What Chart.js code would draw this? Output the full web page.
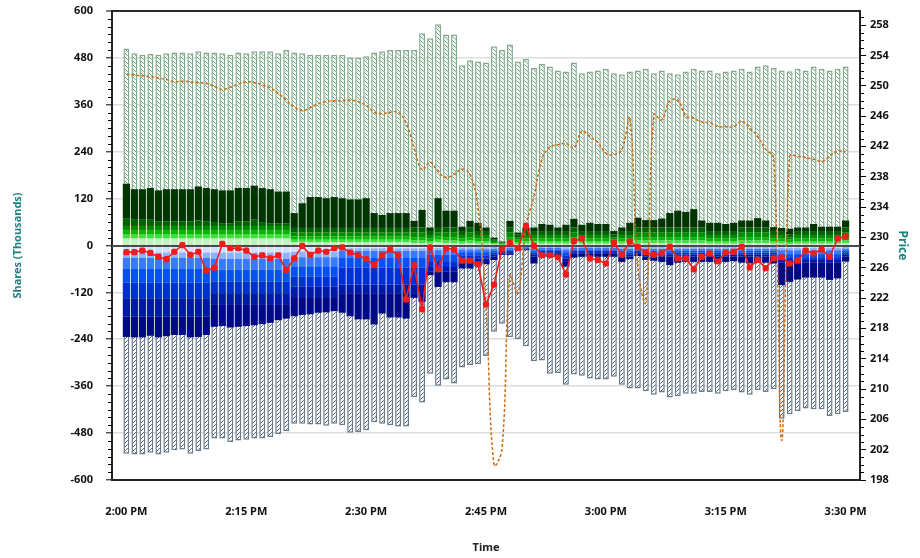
<!DOCTYPE html>
<html>
<head>
<meta charset="utf-8">
<script src="https://cdn.jsdelivr.net/npm/chart.js@4.4.1/dist/chart.umd.min.js"></script>
<style>
  html, body { margin: 0; padding: 0; background: #fff; }
  #wrap { width: 920px; height: 558px; }
</style>
</head>
<body>
<div id="wrap"><canvas id="flowChart"></canvas></div>
<script>
// one bar per minute, 0 = 2:00 PM
const minutes = Array.from({ length: 91 }, (_, i) => i);
const xTickMinutes = [0, 15, 30, 45, 60, 75, 90];
const xTickLabels = ['2:00 PM', '2:15 PM', '2:30 PM', '2:45 PM', '3:00 PM', '3:15 PM', '3:30 PM'];
const shareTicks = [-600, -480, -360, -240, -120, 0, 120, 240, 360, 480, 600];
const priceTicks = [198, 202, 206, 210, 214, 218, 222, 226, 230, 234, 238, 242, 246, 250, 254, 258];

// total buy volume (hatched, up) and total sell volume (hatched, down)
const buyTotal = [
  504, 492, 488, 490, 488, 492, 494, 494, 492, 497,
  494, 494, 492, 488, 494, 492, 497, 497, 497, 492,
  500, 494, 492, 488, 488, 488, 488, 488, 481, 481,
  484, 494, 497, 500, 500, 500, 500, 543, 530, 566,
  540, 540, 461, 474, 471, 468, 510, 500, 514, 471,
  477, 454, 465, 458, 448, 445, 468, 441, 445, 448,
  452, 441, 438, 445, 448, 452, 441, 448, 441, 438,
  445, 452, 448, 448, 441, 445, 448, 452, 445, 458,
  461, 455, 448, 446, 452, 448, 458, 452, 448, 452,
  458
];
const sellTotal = [
  -533, -535, -535, -530, -535, -530, -524, -522, -533, -526,
  -522, -494, -494, -503, -499, -497, -494, -494, -490, -482,
  -475, -456, -456, -458, -458, -461, -456, -460, -479, -477,
  -473, -452, -456, -460, -463, -463, -388, -402, -328, -359,
  -343, -353, -312, -306, -304, -283, -221, -200, -234, -240,
  -258, -296, -294, -328, -326, -356, -330, -333, -340, -343,
  -343, -336, -356, -366, -366, -373, -382, -376, -389, -386,
  -379, -379, -375, -375, -379, -373, -370, -376, -382, -370,
  -375, -368, -443, -432, -424, -417, -419, -419, -436, -432,
  -426
];

// green buy bands: band edges from 0 upward, top of darkest band = greenTop
const gEdge1 = [
  18, 18, 18, 18, 18, 18, 18, 18, 18, 18,
  18, 18, 18, 18, 18, 18, 18, 18, 18, 18,
  18, 8, 8, 8, 8, 8, 8, 8, 8, 8,
  8, 8, 8, 8, 8, 8, 6, 6, 5, 8,
  6, 6, 5, 6, 5, 5, 3, 2, 6, 4,
  5, 5, 5, 5, 5, 5, 6, 5, 5, 5,
  5, 4, 5, 5, 6, 6, 6, 6, 6, 6,
  6, 6, 6, 5, 5, 5, 5, 6, 6, 6,
  6, 5, 5, 4, 5, 5, 5, 5, 5, 5,
  6
];
const gEdge2 = [
  28, 28, 28, 28, 28, 28, 28, 28, 28, 28,
  28, 28, 28, 28, 28, 28, 28, 28, 28, 28,
  28, 15, 15, 15, 15, 15, 15, 15, 15, 15,
  15, 15, 15, 15, 15, 15, 13, 13, 11, 15,
  13, 13, 11, 13, 11, 11, 6, 4, 13, 9,
  11, 11, 11, 11, 11, 11, 13, 11, 11, 11,
  11, 9, 11, 11, 13, 13, 13, 13, 13, 13,
  13, 13, 13, 11, 11, 11, 11, 13, 13, 13,
  13, 11, 11, 9, 11, 11, 11, 11, 11, 11,
  13
];
const gEdge3 = [
  38, 38, 38, 38, 38, 38, 38, 38, 38, 38,
  38, 38, 38, 38, 38, 38, 38, 38, 38, 38,
  38, 23, 23, 23, 23, 23, 23, 23, 23, 23,
  23, 23, 23, 23, 23, 23, 21, 21, 18, 23,
  21, 21, 18, 21, 18, 18, 9, 5, 21, 15,
  18, 18, 18, 18, 18, 18, 21, 18, 18, 18,
  18, 15, 18, 18, 21, 21, 21, 21, 21, 21,
  21, 21, 21, 18, 18, 18, 18, 21, 21, 21,
  21, 18, 18, 15, 18, 18, 18, 18, 18, 18,
  21
];
const gEdge4 = [
  50, 50, 50, 50, 50, 50, 50, 50, 50, 50,
  50, 50, 50, 50, 50, 50, 50, 50, 50, 50,
  50, 33, 33, 33, 33, 33, 33, 33, 33, 33,
  33, 33, 33, 33, 33, 33, 33, 33, 27, 33,
  33, 33, 27, 33, 27, 27, 12, 7, 33, 21,
  27, 27, 27, 27, 27, 27, 33, 27, 27, 27,
  27, 21, 27, 27, 33, 33, 33, 33, 33, 33,
  33, 33, 33, 27, 27, 27, 27, 33, 33, 33,
  33, 27, 27, 21, 27, 27, 27, 27, 27, 27,
  33
];
const gEdge5 = [
  70, 66, 66, 66, 62, 62, 62, 62, 62, 64,
  62, 60, 56, 56, 62, 62, 66, 60, 56, 56,
  56, 45, 45, 45, 45, 45, 45, 45, 45, 45,
  45, 45, 45, 45, 45, 45, 46, 46, 37, 45,
  46, 46, 37, 46, 37, 37, 16, 8, 46, 28,
  37, 37, 37, 37, 37, 37, 46, 37, 37, 37,
  37, 28, 37, 37, 46, 46, 46, 46, 46, 46,
  46, 46, 46, 37, 37, 37, 37, 46, 46, 46,
  46, 37, 37, 28, 37, 37, 37, 37, 37, 37,
  46
];
const greenTop = [
  158, 144, 144, 147, 141, 144, 144, 144, 144, 151,
  147, 144, 141, 141, 147, 147, 153, 147, 144, 138,
  138, 83, 108, 124, 124, 121, 124, 121, 118, 118,
  121, 83, 78, 83, 83, 83, 63, 91, 46, 121,
  89, 89, 48, 63, 58, 46, 20, 10, 63, 33,
  46, 46, 55, 53, 46, 53, 68, 53, 58, 55,
  55, 37, 46, 58, 71, 65, 65, 69, 83, 89,
  86, 93, 64, 58, 58, 55, 58, 64, 64, 70,
  64, 47, 45, 43, 46, 46, 55, 48, 48, 48,
  64
];

// blue sell bands: band edges from 0 downward, bottom of navy band = blueBottom
const bEdge1 = [
  -18, -18, -18, -18, -18, -18, -18, -18, -18, -18,
  -18, -18, -18, -18, -18, -18, -18, -18, -18, -18,
  -18, -16, -16, -16, -16, -16, -16, -7, -7, -7,
  -7, -7, -7, -7, -7, -7, -7, -7, -6, -6,
  -6, -6, -5, -5, -5, -5, -4, -3, -3, -2,
  -2, -4, -3, -3, -3, -5, -3, -3, -3, -3,
  -3, -3, -4, -4, -3, -4, -4, -4, -4, -4,
  -4, -4, -4, -4, -4, -4, -4, -4, -4, -4,
  -4, -4, -6, -6, -6, -6, -6, -6, -6, -6,
  -4
];
const bEdge2 = [
  -32, -32, -32, -32, -32, -32, -32, -32, -32, -32,
  -32, -34, -34, -34, -34, -34, -34, -34, -34, -34,
  -34, -30, -30, -30, -30, -30, -30, -14, -14, -14,
  -14, -14, -14, -14, -14, -14, -14, -14, -12, -12,
  -12, -12, -10, -10, -10, -10, -8, -6, -6, -4,
  -4, -8, -6, -6, -6, -10, -6, -6, -6, -6,
  -6, -6, -8, -8, -6, -8, -8, -8, -8, -8,
  -8, -8, -8, -8, -8, -8, -8, -8, -8, -8,
  -8, -8, -12, -12, -12, -12, -12, -12, -12, -12,
  -8
];
const bEdge3 = [
  -60, -60, -60, -60, -60, -60, -60, -60, -60, -60,
  -60, -62, -62, -62, -62, -62, -62, -62, -62, -62,
  -62, -55, -55, -55, -55, -55, -55, -32, -32, -32,
  -32, -32, -32, -32, -32, -32, -32, -32, -24, -24,
  -24, -24, -17, -17, -17, -17, -13, -10, -10, -6,
  -6, -13, -10, -10, -10, -17, -10, -10, -10, -10,
  -10, -10, -13, -13, -10, -13, -13, -13, -13, -13,
  -13, -13, -13, -13, -13, -13, -13, -13, -13, -13,
  -13, -13, -22, -22, -22, -22, -22, -22, -22, -22,
  -13
];
const bEdge4 = [
  -95, -95, -95, -95, -95, -95, -95, -95, -95, -95,
  -95, -92, -92, -92, -92, -92, -92, -92, -92, -92,
  -92, -80, -80, -80, -80, -80, -80, -56, -56, -56,
  -56, -56, -56, -56, -56, -56, -56, -56, -40, -40,
  -40, -40, -25, -25, -25, -25, -18, -13, -13, -8,
  -8, -18, -13, -13, -13, -25, -13, -13, -13, -13,
  -13, -13, -18, -18, -13, -18, -18, -18, -18, -18,
  -18, -18, -18, -18, -18, -18, -18, -18, -18, -18,
  -18, -18, -30, -30, -30, -30, -30, -30, -30, -30,
  -18
];
const bEdge5 = [
  -135, -135, -135, -135, -135, -135, -135, -135, -135, -135,
  -135, -122, -122, -122, -122, -122, -122, -122, -122, -122,
  -122, -105, -105, -105, -105, -105, -105, -100, -100, -100,
  -100, -100, -100, -100, -100, -100, -100, -100, -55, -55,
  -55, -55, -33, -33, -33, -33, -23, -17, -17, -9,
  -9, -23, -17, -17, -17, -33, -17, -17, -17, -17,
  -17, -17, -23, -23, -17, -23, -23, -23, -23, -23,
  -23, -23, -23, -23, -23, -23, -23, -23, -23, -23,
  -23, -23, -37, -37, -37, -37, -37, -37, -37, -37,
  -23
];
const bEdge6 = [
  -182, -182, -182, -182, -182, -182, -182, -182, -182, -182,
  -182, -152, -152, -152, -152, -152, -152, -152, -152, -152,
  -152, -132, -132, -132, -132, -132, -132, -122, -122, -122,
  -122, -122, -122, -122, -122, -122, -122, -122, -66, -66,
  -66, -66, -40, -40, -40, -40, -28, -20, -20, -10,
  -10, -28, -20, -20, -20, -40, -20, -20, -20, -20,
  -20, -20, -28, -28, -20, -28, -28, -28, -28, -28,
  -28, -28, -28, -28, -28, -28, -28, -28, -28, -28,
  -28, -28, -44, -44, -44, -44, -44, -44, -44, -44,
  -28
];
const blueBottom = [
  -234, -235, -235, -231, -235, -232, -229, -229, -235, -234,
  -229, -208, -206, -210, -208, -206, -204, -201, -198, -191,
  -187, -181, -178, -176, -172, -171, -168, -172, -181, -189,
  -189, -202, -174, -184, -184, -187, -134, -144, -76, -106,
  -94, -94, -59, -59, -53, -48, -37, -24, -24, -13,
  -12, -46, -30, -30, -29, -54, -31, -29, -29, -29,
  -29, -29, -42, -35, -27, -37, -39, -42, -50, -44,
  -42, -42, -42, -42, -46, -42, -40, -44, -46, -44,
  -44, -46, -101, -93, -87, -82, -82, -82, -88, -84,
  -41
];

// net shares (left axis) and price (right axis)
const netShares = [
  -17, -17, -13, -19, -29, -35, -16, 1, -24, -16,
  -64, -57, 4, -7, -7, -13, -29, -25, -33, -25,
  -63, -33, -1, -24, -13, -16, -7, -5, -18, -25,
  -35, -50, -25, -10, -25, -138, -50, -163, -5, -61,
  -7, -10, -39, -39, -48, -151, -100, -10, 7, -7,
  50, -1, -25, -25, -30, -74, 11, 18, -33, -37,
  -46, 7, -24, 10, -3, -18, -24, -20, -3, -33,
  -33, -61, -29, -20, -41, -18, -16, -3, -56, -37,
  -58, -33, -30, -46, -39, -13, -20, -10, -29, 18,
  23
];
const price = [
  251.5, 251.4, 251.3, 251.2, 251.0, 250.8, 250.5, 250.6, 250.5, 250.4,
  250.3, 249.9, 249.5, 249.8, 250.2, 250.5, 250.4, 250.1, 249.7, 249.0,
  248.1, 247.2, 246.7, 247.1, 247.6, 247.9, 248.0, 248.0, 248.1, 247.9,
  247.4, 246.5, 246.3, 246.5, 246.5, 245.1, 241.8, 238.9, 239.9, 238.7,
  237.9, 238.3, 239.0, 238.3, 234.0, 221.0, 200.0, 202.1, 224.9, 222.7,
  231.5, 235.4, 240.3, 241.9, 242.2, 242.4, 241.8, 244.0, 243.3, 242.5,
  241.1, 240.9, 241.6, 245.7, 226.0, 221.5, 246.2, 245.5, 248.0, 248.1,
  246.0, 245.7, 245.2, 245.1, 244.6, 244.6, 244.6, 245.3, 244.4, 243.3,
  241.6, 240.5, 203.2, 240.7, 240.7, 240.5, 240.3, 240.0, 240.7, 241.4,
  241.3
];

const greenColors = ['#c2f2c0', '#3fe03f', '#00b800', '#008c00', '#006200', '#003400'];
const blueColors = ['#d3e0ff', '#8fb2ff', '#3a78ff', '#0a4ff2', '#0030d2', '#0018a8', '#000a86'];

function makeHatch(lineColor, up) {
    const c = document.createElement('canvas');
    c.width = 4;
    c.height = 4;
    const g = c.getContext('2d');
    g.fillStyle = '#ffffff';
    g.fillRect(0, 0, 4, 4);
    g.strokeStyle = lineColor;
    g.lineWidth = 1;
    g.beginPath();
    if (up) {
        g.moveTo(-1, 5); g.lineTo(5, -1);
        g.moveTo(-1, 1); g.lineTo(1, -1);
        g.moveTo(3, 5); g.lineTo(5, 3);
    } else {
        g.moveTo(-1, -1); g.lineTo(5, 5);
        g.moveTo(-1, 3); g.lineTo(1, 5);
        g.moveTo(3, -1); g.lineTo(5, 1);
    }
    g.stroke();
    return g.createPattern(c, 'repeat');
}

const pts = (vals) => minutes.map((m, i) => ({ x: m, y: vals[i] }));
const band = (lo, hi) => minutes.map((m, i) => ({ x: m, y: [lo ? lo[i] : 0, hi[i]] }));

const greenEdges = [null, gEdge1, gEdge2, gEdge3, gEdge4, gEdge5, greenTop];
const blueEdges = [null, bEdge1, bEdge2, bEdge3, bEdge4, bEdge5, bEdge6, blueBottom];

const datasets = [
    {
        label: 'Buy volume',
        data: pts(buyTotal),
        backgroundColor: makeHatch('#6f9f7c', false),
        borderColor: '#80aa8c',
        borderWidth: 1.5,
        borderSkipped: false,
        barPercentage: 0.74,
        categoryPercentage: 1.0,
        grouped: false,
        order: 6
    },
    {
        label: 'Sell volume',
        data: pts(sellTotal),
        backgroundColor: makeHatch('#4d5f73', true),
        borderColor: '#687a8d',
        borderWidth: 1.5,
        borderSkipped: false,
        barPercentage: 0.74,
        categoryPercentage: 1.0,
        grouped: false,
        order: 6
    }
];
for (let k = 1; k < greenEdges.length; k++) {
    datasets.push({
        label: 'Buy band ' + k,
        data: band(greenEdges[k - 1], greenEdges[k]),
        backgroundColor: greenColors[k - 1],
        borderWidth: 0,
        barPercentage: 0.9,
        categoryPercentage: 1.0,
        grouped: false,
        order: 5
    });
}
for (let k = 1; k < blueEdges.length; k++) {
    datasets.push({
        label: 'Sell band ' + k,
        data: band(blueEdges[k - 1], blueEdges[k]),
        backgroundColor: blueColors[k - 1],
        borderWidth: 0,
        barPercentage: 0.9,
        categoryPercentage: 1.0,
        grouped: false,
        order: 5
    });
}
datasets.push({
    type: 'line',
    label: 'Price',
    data: pts(price),
    yAxisID: 'y2',
    borderColor: '#cc6d12',
    borderWidth: 1.5,
    borderDash: [3, 2],
    pointRadius: 0,
    tension: 0.4,
    order: 2
});
datasets.push({
    type: 'line',
    label: 'Net',
    data: pts(netShares),
    yAxisID: 'y',
    borderColor: '#f01c1c',
    borderWidth: 1.6,
    pointStyle: 'rectRounded',
    pointRadius: 3.6,
    pointBackgroundColor: '#f01c1c',
    pointBorderWidth: 0,
    tension: 0,
    order: 1
});

// zero line sits above the bars but under the two lines
const zeroLine = {
    id: 'zeroLine',
    beforeDatasetDraw(chart, args) {
        if (args.index !== chart.data.datasets.length - 2) return;
        const { ctx, chartArea, scales: { y } } = chart;
        const py = Math.round(y.getPixelForValue(0));
        ctx.save();
        ctx.strokeStyle = '#4a4a4a';
        ctx.lineWidth = 2;
        ctx.beginPath();
        ctx.moveTo(chartArea.left, py);
        ctx.lineTo(chartArea.right, py);
        ctx.stroke();
        ctx.restore();
    }
};

// small ticks between the labelled ones
const minorTicks = {
    id: 'minorTicks',
    afterDraw(chart) {
        const { ctx, scales: { y, y2 } } = chart;
        ctx.save();
        ctx.strokeStyle = '#000';
        ctx.lineWidth = 1;
        ctx.beginPath();
        for (let v = -600; v <= 600; v += 20) {
            if (v % 120 === 0) continue;
            const py = Math.round(y.getPixelForValue(v)) + 0.5;
            ctx.moveTo(y.right - 4, py);
            ctx.lineTo(y.right, py);
        }
        for (let v = 198; v <= 259; v += 1) {
            if ((v - 198) % 4 === 0) continue;
            const py = Math.round(y2.getPixelForValue(v)) + 0.5;
            ctx.moveTo(y2.left, py);
            ctx.lineTo(y2.left + 4, py);
        }
        ctx.stroke();
        ctx.restore();
    }
};

const tickFont = { family: "'Noto Sans', sans-serif", size: 11, weight: 'bold' };

// keep label overhang from pushing the plot area down
const fitSide = (w) => (s) => {
    s.width = w;
    s.paddingTop = 7;
    s.paddingBottom = 7;
};

const ctx = document.getElementById('flowChart').getContext('2d');
const flowChart = new Chart(ctx, {
    type: 'bar',
    data: { datasets: datasets },
    plugins: [zeroLine, minorTicks],
    options: {
        responsive: true,
        maintainAspectRatio: false,
        animation: false,
        events: [],
        layout: { padding: { top: 11, left: 0, right: 0, bottom: 0 } },
        plugins: {
            legend: { display: false },
            tooltip: { enabled: false }
        },
        scales: {
            x: {
                type: 'linear',
                min: -1.8,
                max: 91.8,
                offset: false,
                grid: { display: false, drawTicks: false },
                border: { color: '#222', width: 2 },
                afterBuildTicks: (s) => { s.ticks = xTickMinutes.map(v => ({ value: v })); },
                ticks: {
                    padding: 25,
                    maxRotation: 0,
                    autoSkip: false,
                    color: '#111',
                    font: tickFont,
                    callback: (v) => xTickLabels[xTickMinutes.indexOf(v)]
                },
                title: {
                    display: true,
                    text: 'Time',
                    color: '#222',
                    font: { family: "'Noto Sans', sans-serif", size: 11, weight: 'bold' },
                    padding: { top: 0, bottom: 4 }
                },
                afterFit: (s) => { s.height = 78; }
            },
            y: {
                position: 'left',
                min: -600,
                max: 600,
                afterBuildTicks: (s) => { s.ticks = shareTicks.map(v => ({ value: v })); },
                grid: {
                    color: (c) => (c.tick && c.tick.value === 600 ? '#2a2a2a' : '#dedede'),
                    lineWidth: (c) => (c.tick && c.tick.value === 600 ? 2 : 1.6),
                    tickColor: '#000',
                    tickWidth: 1,
                    tickLength: 6
                },
                border: { color: '#222', width: 2 },
                ticks: { padding: 13, color: '#111', font: tickFont },
                title: {
                    display: true,
                    text: 'Shares (Thousands)',
                    color: '#1f8080',
                    font: { family: "'Noto Sans', sans-serif", size: 11, weight: 'bold' },
                    padding: { top: 11, bottom: 0 }
                },
                afterFit: fitSide(112)
            },
            y2: {
                position: 'right',
                min: 198,
                max: 259.85,
                afterBuildTicks: (s) => { s.ticks = priceTicks.map(v => ({ value: v })); },
                grid: {
                    drawOnChartArea: false,
                    tickColor: '#000',
                    tickWidth: 1,
                    tickLength: 6
                },
                border: { color: '#222', width: 2 },
                ticks: { padding: 4, color: '#111', font: tickFont },
                title: {
                    display: true,
                    text: 'Price',
                    color: '#1f8080',
                    font: { family: "'Noto Sans', sans-serif", size: 12, weight: 'bold' },
                    padding: { top: 10, bottom: 0 }
                },
                afterFit: fitSide(60)
            }
        }
    }
});
</script>
</body>
</html>
